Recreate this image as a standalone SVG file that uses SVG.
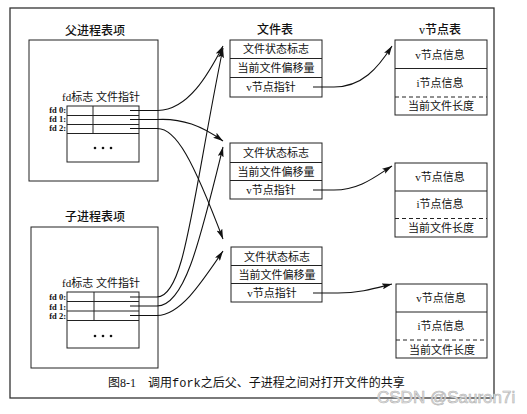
<svg xmlns="http://www.w3.org/2000/svg" width="527" height="414" viewBox="0 0 527 414">
<style>
.box{fill:#fff;stroke:#222;stroke-width:1}
.ln{stroke:#222;stroke-width:1;fill:none}
.dash{stroke:#222;stroke-width:1;stroke-dasharray:4,3;fill:none}
.t{font-family:"Liberation Serif","Noto Sans CJK SC",serif;font-size:11px;fill:#111;text-anchor:middle}
.h{font-family:"Liberation Serif","Noto Sans CJK SC",serif;font-size:12px;fill:#111;text-anchor:middle;font-weight:500}
.fd{font-family:"Liberation Serif",serif;font-size:8.5px;font-weight:bold;fill:#111;text-anchor:end}
.con{stroke:#111;stroke-width:1.1;fill:none;marker-end:url(#ah)}
.dot{fill:#111}
</style>
<defs>
<marker id="ah" markerUnits="userSpaceOnUse" viewBox="0 0 10 6" refX="10" refY="3" markerWidth="10" markerHeight="6" orient="auto">
<path d="M0,0 L10,3 L0,6 L2,3 z" fill="#111"/>
</marker>
</defs>
<rect width="527" height="414" fill="#fff"/>
<g id="frame">
<rect x="10" y="8" width="484" height="390" fill="none" stroke="#333" stroke-width="1.3"/>
</g>

<g id="parent">
<text class="h" x="95" y="35">父进程表项</text>
<rect class="box" x="29" y="40" width="129" height="141"/>
<text class="t" x="101" y="101">fd标志 文件指针</text>
<rect class="box" x="67" y="106" width="72" height="56"/>
<line class="ln" x1="67" y1="115.5" x2="139" y2="115.5"/>
<line class="ln" x1="67" y1="124.5" x2="139" y2="124.5"/>
<line class="ln" x1="67" y1="133.5" x2="139" y2="133.5"/>
<line class="ln" x1="93" y1="106" x2="93" y2="133.5"/>
<text class="fd" x="66" y="113">fd 0:</text>
<text class="fd" x="66" y="122">fd 1:</text>
<text class="fd" x="66" y="131">fd 2:</text>
<circle class="dot" cx="95" cy="148" r="1.3"/>
<circle class="dot" cx="103" cy="148" r="1.3"/>
<circle class="dot" cx="111" cy="148" r="1.3"/>
</g>

<g id="child">
<text class="h" x="95" y="221">子进程表项</text>
<rect class="box" x="31" y="227" width="127" height="141"/>
<text class="t" x="101" y="287">fd标志 文件指针</text>
<rect class="box" x="67" y="292" width="72" height="56"/>
<line class="ln" x1="67" y1="301.5" x2="139" y2="301.5"/>
<line class="ln" x1="67" y1="311" x2="139" y2="311"/>
<line class="ln" x1="67" y1="320.5" x2="139" y2="320.5"/>
<line class="ln" x1="94" y1="292" x2="94" y2="320.5"/>
<text class="fd" x="66" y="300">fd 0:</text>
<text class="fd" x="66" y="309.5">fd 1:</text>
<text class="fd" x="66" y="319">fd 2:</text>
<circle class="dot" cx="95" cy="336" r="1.3"/>
<circle class="dot" cx="103" cy="336" r="1.3"/>
<circle class="dot" cx="111" cy="336" r="1.3"/>
</g>

<g id="ft1">
<text class="h" x="275" y="34">文件表</text>
<rect class="box" x="230" y="40" width="92" height="57"/>
<line class="ln" x1="230" y1="58.5" x2="322" y2="58.5"/>
<line class="ln" x1="230" y1="77.5" x2="322" y2="77.5"/>
<text class="t" x="276" y="53">文件状态标志</text>
<text class="t" x="276" y="71.5">当前文件偏移量</text>
<text class="t" x="271" y="91">v节点指针</text>
</g>
<g id="ft2">
<rect class="box" x="230" y="143" width="92" height="56"/>
<line class="ln" x1="230" y1="162.5" x2="322" y2="162.5"/>
<line class="ln" x1="230" y1="180.5" x2="322" y2="180.5"/>
<text class="t" x="276" y="157">文件状态标志</text>
<text class="t" x="276" y="175.5">当前文件偏移量</text>
<text class="t" x="271" y="194">v节点指针</text>
</g>
<g id="ft3">
<rect class="box" x="231" y="247" width="91" height="55"/>
<line class="ln" x1="231" y1="265.5" x2="322" y2="265.5"/>
<line class="ln" x1="231" y1="283.5" x2="322" y2="283.5"/>
<text class="t" x="277" y="261">文件状态标志</text>
<text class="t" x="277" y="279">当前文件偏移量</text>
<text class="t" x="272" y="297">v节点指针</text>
</g>

<g id="vt1">
<text class="h" x="440" y="34">v节点表</text>
<rect class="box" x="395" y="40" width="92" height="75"/>
<line class="ln" x1="395" y1="68.5" x2="487" y2="68.5"/>
<line class="dash" x1="395" y1="97" x2="487" y2="97"/>
<text class="t" x="440" y="59">v节点信息</text>
<text class="t" x="440" y="86.5">i节点信息</text>
<text class="t" x="441" y="110">当前文件长度</text>
</g>
<g id="vt2">
<rect class="box" x="395" y="163" width="92" height="74"/>
<line class="ln" x1="395" y1="191" x2="487" y2="191"/>
<line class="dash" x1="395" y1="218.5" x2="487" y2="218.5"/>
<text class="t" x="440" y="181">v节点信息</text>
<text class="t" x="440" y="208">i节点信息</text>
<text class="t" x="441" y="231.5">当前文件长度</text>
</g>
<g id="vt3">
<rect class="box" x="396" y="284" width="91" height="74"/>
<line class="ln" x1="396" y1="312" x2="487" y2="312"/>
<line class="dash" x1="396" y1="340" x2="487" y2="340"/>
<text class="t" x="441" y="302">v节点信息</text>
<text class="t" x="441" y="330">i节点信息</text>
<text class="t" x="442" y="353.5">当前文件长度</text>
</g>

<g id="connectors">
<path class="con" d="M130,110.5 H158 C188,110 208,75 223,46"/>
<path class="con" d="M130,119.5 H157 C182,118 202,126 223,141"/>
<path class="con" d="M130,128.5 H157 C176,128 193,160 223,239"/>
<path class="con" d="M130,297 H157 C185,297 192,200 223,48"/>
<path class="con" d="M130,306 H157 C185,306 200,240 223,147"/>
<path class="con" d="M130,315.5 H157 C180,315 200,285 223,251"/>
<path class="con" d="M313,87 H334 C362,87 378,68 392,46"/>
<path class="con" d="M313,190 H334 C360,190 376,176 392,166"/>
<path class="con" d="M313,293 H338 C360,293 376,288 392,284"/>
</g>

<g id="caption">
<text x="108" y="387" font-family="Liberation Serif,'Noto Sans CJK SC',serif" font-size="12" fill="#111">图8-1</text>
<text x="148" y="387" font-family="Liberation Serif,'Noto Sans CJK SC',serif" font-size="12" fill="#111">调用<tspan font-family="Liberation Mono,monospace" font-size="12">fork</tspan>之后父、子进程之间对打开文件的共享</text>
</g>
<g id="watermark">
<text x="377" y="403" font-family="Liberation Sans,sans-serif" font-size="17" fill="#e4e4e4" stroke="#b4b4b4" stroke-width="0.6">CSDN @Sauron7i</text>
</g>
</svg>
